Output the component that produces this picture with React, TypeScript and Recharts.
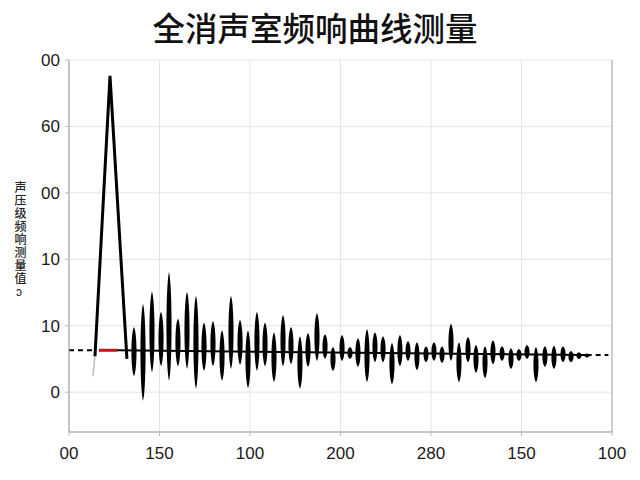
import { ComposedChart, Bar, Line, XAxis, YAxis, CartesianGrid, ReferenceLine } from 'recharts'

const xTicks = [0, 100, 200, 300, 400, 500, 600]
const xTickLabels = ['00', '150', '100', '200', '280', '150', '100']
const yTicks = [0, 10, 20, 30, 40, 50]
const yTickLabels = ['0', '10', '10', '00', '60', '00']

// burst positions and their low / high extent
const burstX = [
  71.8, 81.8, 91.7, 101.7, 110.5, 120.4, 130.4, 140.3, 149.2, 159.1,
  169.1, 179.0, 189.0, 197.8, 207.7, 216.6, 226.5, 236.5, 245.3, 255.2,
  264.1, 274.0, 282.9, 291.7, 301.7, 310.5, 319.3, 329.3, 338.1, 347.0,
  356.9, 365.7, 374.6, 384.5, 394.5, 403.3, 412.2, 422.1, 430.9, 440.9,
  449.7, 459.7, 468.5, 478.5, 488.4, 497.2, 506.1, 516.0, 525.9, 535.9,
  545.9, 554.7, 563.5, 572.4,
]
const burstHigh = [
  9.8, 13.3, 15.2, 12.1, 18.1, 11.1, 15.1, 14.5, 10.5, 10.7,
  9.3, 14.5, 10.9, 9.3, 12.1, 10.5, 9.0, 11.6, 9.8, 8.4,
  8.9, 11.9, 8.7, 6.8, 8.6, 6.8, 8.1, 9.5, 9.0, 8.4,
  7.4, 8.6, 7.7, 7.5, 6.9, 7.5, 6.9, 10.3, 7.5, 8.3,
  7.1, 6.9, 7.8, 6.9, 6.6, 6.5, 7.1, 6.8, 6.9, 7.0,
  6.9, 6.2, 6.0, 5.8,
]
const burstLow = [
  2.4, -1.3, 3.0, 3.9, 1.7, 3.9, 3.5, 0.5, 3.2, 3.9,
  1.7, 3.5, 4.1, 0.6, 3.2, 3.9, 1.5, 3.9, 4.2, 0.5,
  3.8, 4.7, 5.0, 3.2, 4.7, 5.0, 3.8, 1.5, 4.5, 4.5,
  1.2, 3.9, 4.7, 3.3, 4.5, 4.7, 4.4, 4.7, 1.5, 4.5,
  2.9, 2.1, 4.2, 4.7, 3.5, 4.7, 5.0, 1.5, 3.8, 3.5,
  4.5, 4.5, 5.0, 5.2,
]

const peak = [
  { x: 28.7, y: 5.4 },
  { x: 45.3, y: 47.6 },
  { x: 64, y: 5.0 },
]
const lead = [
  { x: 26.5, y: 2.4 },
  { x: 28.7, y: 5.4 },
]
const dashLeft = [
  { x: 0, y: 6.3 },
  { x: 29, y: 6.3 },
]
const redMark = [
  { x: 33, y: 6.3 },
  { x: 53, y: 6.3 },
]
const baseline = [
  { x: 53, y: 6.3 },
  { x: 572, y: 5.6 },
]
const dashRight = [
  { x: 572, y: 5.6 },
  { x: 596, y: 5.6 },
]

const bursts = burstX.map((x, i) => ({ x, range: [burstLow[i], burstHigh[i]] }))

// control offset of the cubic curves, gives a ~5px wide spindle
const SPINDLE_C = 3.4

function Spindle(props: any) {
  const { x, y, width, height } = props
  const top = height < 0 ? y + height : y
  const h = Math.abs(height)
  const bottom = top + h
  const cx = x + (width || 0) / 2
  const k = h * 0.12
  const d =
    `M${cx},${top} C${cx + SPINDLE_C},${top + k} ${cx + SPINDLE_C},${bottom - k} ${cx},${bottom} ` +
    `C${cx - SPINDLE_C},${bottom - k} ${cx - SPINDLE_C},${top + k} ${cx},${top} Z`
  return <path d={d} fill="#000" />
}

const tickFont = { fontSize: 17, fill: '#1a1a1a', fontFamily: 'Liberation Sans, Arial, sans-serif' }

export default function App() {
  return (
    <div style={{ position: 'absolute', left: 0, top: 0, width: 640, height: 480, background: '#fff' }}>
      <div
        style={{
          position: 'absolute', left: 0, top: 7, width: 630, textAlign: 'center',
          fontFamily: '"Noto Sans CJK SC", sans-serif', fontSize: 32.5, fontWeight: 500, color: '#111',
          lineHeight: '40px',
        }}
      >
        全消声室频响曲线测量
      </div>
      <div
        style={{
          position: 'absolute', left: 12, top: 181, writingMode: 'vertical-rl', textOrientation: 'upright',
          fontFamily: '"Noto Sans CJK SC", sans-serif', fontSize: 12, fontWeight: 500, color: '#222',
          lineHeight: '16px', letterSpacing: 1,
        }}
      >
        声压级频响测量值ↄ
      </div>
      <ComposedChart width={640} height={480} data={bursts} margin={{ top: 60, right: 28, bottom: 0, left: 0 }}>
        <CartesianGrid stroke="#e4e4e4" strokeWidth={1} />
        <XAxis
          dataKey="x"
          type="number"
          domain={[0, 600]}
          ticks={xTicks}
          tickFormatter={(v: number, i: number) => xTickLabels[i]}
          tick={tickFont}
          tickSize={4}
          tickMargin={11}
          tickLine={{ stroke: '#bbb' }}
          axisLine={{ stroke: '#999' }}
          height={48}
          allowDataOverflow
        />
        <YAxis
          type="number"
          domain={[-6, 50]}
          ticks={yTicks}
          tickFormatter={(v: number, i: number) => yTickLabels[i]}
          tick={tickFont}
          tickSize={4}
          tickMargin={5}
          tickLine={{ stroke: '#bbb' }}
          axisLine={{ stroke: '#999' }}
          width={69}
          allowDataOverflow
        />
        <ReferenceLine x={600} stroke="#aaa" />
        <Line data={baseline} dataKey="y" stroke="#000" strokeWidth={2} dot={false} isAnimationActive={false} />
        <Bar dataKey="range" barSize={6} fill="#000" shape={<Spindle />} isAnimationActive={false} />
        <Line data={dashLeft} dataKey="y" stroke="#000" strokeWidth={2} strokeDasharray="5 4" dot={false} isAnimationActive={false} />
        <Line data={dashRight} dataKey="y" stroke="#000" strokeWidth={2} strokeDasharray="5 4" dot={false} isAnimationActive={false} />
        <Line data={redMark} dataKey="y" stroke="#c81414" strokeWidth={3} dot={false} isAnimationActive={false} />
        <Line data={lead} dataKey="y" stroke="#bdbdbd" strokeWidth={1.5} dot={false} isAnimationActive={false} />
        <Line data={peak} dataKey="y" stroke="#000" strokeWidth={3} strokeLinejoin="miter" dot={false} isAnimationActive={false} />
      </ComposedChart>
    </div>
  )
}
